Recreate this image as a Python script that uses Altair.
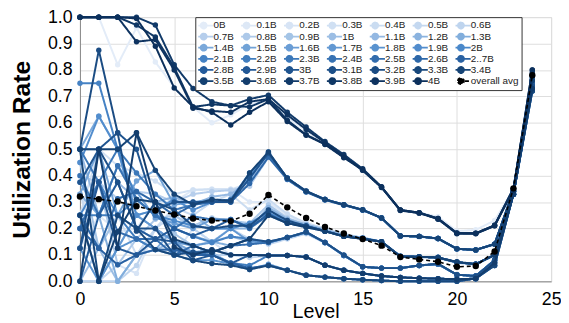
import altair as alt
import pandas as pd

levels = list(range(25))

series_names = ["0B", "0.1B", "0.2B", "0.3B", "0.4B", "0.5B", "0.6B",
                "0.7B", "0.8B", "0.9B", "1B", "1.1B", "1.2B", "1.3B",
                "1.4B", "1.5B", "1.6B", "1.7B", "1.8B", "1.9B", "2B",
                "2.1B", "2.2B", "2.3B", "2.4B", "2.5B", "2.6B", "2..7B",
                "2.8B", "2.9B", "3B", "3.1B", "3.2B", "3.3B", "3.4B",
                "3.5B", "3.6B", "3.7B", "3.8B", "3.9B", "4B"]
avg_name = "overall avg"

u00 = [1.0, 1.0, 0.82, 0.96, 0.83, 0.735, 0.66, 0.60, 0.63, 0.67, 0.69, 0.62, 0.57, 0.52, 0.47, 0.42, 0.355, 0.27, 0.26, 0.245, 0.19, 0.195, 0.23, 0.35, 0.79]
u01 = [0.125, 0.25, 0.1875, 0.2, 0.3, 0.3, 0.346, 0.35, 0.35, 0.3, 0.3, 0.25, 0.22, 0.2, 0.18, 0.165, 0.15, 0.095, 0.09, 0.088, 0.07, 0.062, 0.1, 0.34, 0.75]
u02 = [0.125, 0.125, 0.0625, 0.03, 0.2, 0.1, 0.2, 0.15, 0.1, 0.1, 0.098, 0.098, 0.092, 0.061, 0.042, 0.03, 0.02, 0.015, 0.012, 0.01, 0.008, 0.01, 0.07, 0.33, 0.73]
u03 = [0.25, 0.5, 0.4375, 0.41, 0.38, 0.33, 0.346, 0.348, 0.348, 0.37, 0.475, 0.385, 0.338, 0.308, 0.288, 0.27, 0.238, 0.17, 0.168, 0.16, 0.121, 0.117, 0.14, 0.34, 0.76]
u04 = [0.33, 0.125, 0.25, 0.1, 0.2, 0.28, 0.25, 0.3, 0.33, 0.27, 0.31, 0.255, 0.22, 0.2, 0.18, 0.165, 0.148, 0.095, 0.09, 0.088, 0.07, 0.062, 0.1, 0.34, 0.75]
u05 = [0.0, 0.0, 0.0625, 0.1, 0.2, 0.25, 0.2, 0.15, 0.2, 0.16, 0.14, 0.16, 0.18, 0.145, 0.098, 0.055, 0.05, 0.05, 0.06, 0.065, 0.025, 0.02, 0.08, 0.33, 0.74]
u06 = [0.0, 0.0, 0.0, 0.06, 0.2, 0.15, 0.1, 0.1, 0.1, 0.09, 0.097, 0.098, 0.092, 0.061, 0.042, 0.03, 0.02, 0.015, 0.012, 0.01, 0.008, 0.01, 0.07, 0.33, 0.73]
u07 = [0.4, 0.375, 0.3125, 0.34, 0.33, 0.3, 0.33, 0.34, 0.345, 0.36, 0.47, 0.388, 0.34, 0.31, 0.29, 0.27, 0.24, 0.172, 0.17, 0.162, 0.123, 0.119, 0.141, 0.34, 0.76]
u08 = [0.2, 0.375, 0.0625, 0.16, 0.235, 0.25, 0.21, 0.24, 0.23, 0.22, 0.29, 0.24, 0.215, 0.195, 0.175, 0.165, 0.15, 0.095, 0.093, 0.09, 0.072, 0.065, 0.1, 0.34, 0.75]
u09 = [0.45, 0.125, 0.25, 0.2, 0.16, 0.18, 0.135, 0.15, 0.17, 0.15, 0.145, 0.165, 0.185, 0.147, 0.098, 0.055, 0.05, 0.05, 0.06, 0.065, 0.025, 0.02, 0.08, 0.33, 0.74]
u10 = [0.0, 0.125, 0.0, 0.1, 0.12, 0.15, 0.135, 0.11, 0.067, 0.05, 0.06, 0.042, 0.023, 0.016, 0.01, 0.006, 0.003, 0.0, 0.0, 0.0, 0.0, 0.011, 0.06, 0.33, 0.72]
u11 = [0.5, 0.25, 0.375, 0.31, 0.3, 0.32, 0.29, 0.32, 0.33, 0.38, 0.48, 0.39, 0.342, 0.311, 0.29, 0.271, 0.24, 0.172, 0.17, 0.162, 0.123, 0.119, 0.141, 0.34, 0.75]
u12 = [0.5, 0.5, 0.125, 0.25, 0.27, 0.2, 0.25, 0.2, 0.2, 0.2, 0.28, 0.235, 0.215, 0.195, 0.175, 0.165, 0.15, 0.095, 0.093, 0.09, 0.072, 0.065, 0.1, 0.34, 0.75]
u13 = [0.33, 0.25, 0.0, 0.1, 0.12, 0.2, 0.172, 0.15, 0.135, 0.16, 0.15, 0.166, 0.185, 0.147, 0.098, 0.055, 0.05, 0.05, 0.06, 0.065, 0.025, 0.02, 0.08, 0.33, 0.74]
u14 = [0.5, 0.625, 0.5, 0.25, 0.2, 0.15, 0.11, 0.12, 0.1, 0.1, 0.098, 0.098, 0.092, 0.061, 0.042, 0.03, 0.02, 0.015, 0.012, 0.01, 0.008, 0.01, 0.07, 0.33, 0.73]
u15 = [0.33, 0.5, 0.25, 0.38, 0.42, 0.29, 0.3, 0.31, 0.3, 0.4, 0.485, 0.392, 0.341, 0.31, 0.29, 0.27, 0.24, 0.172, 0.17, 0.162, 0.123, 0.119, 0.141, 0.34, 0.76]
u16 = [0.375, 0.25, 0.4375, 0.34, 0.24, 0.22, 0.2, 0.234, 0.23, 0.21, 0.27, 0.23, 0.21, 0.19, 0.172, 0.163, 0.15, 0.095, 0.093, 0.09, 0.072, 0.065, 0.1, 0.34, 0.75]
u17 = [0.25, 0.0, 0.125, 0.25, 0.2, 0.15, 0.135, 0.147, 0.2, 0.15, 0.147, 0.166, 0.185, 0.147, 0.098, 0.055, 0.05, 0.05, 0.06, 0.065, 0.025, 0.02, 0.08, 0.33, 0.74]
u18 = [0.125, 0.0, 0.125, 0.16, 0.12, 0.1, 0.079, 0.08, 0.067, 0.045, 0.065, 0.042, 0.023, 0.016, 0.01, 0.006, 0.003, 0.0, 0.0, 0.0, 0.0, 0.011, 0.06, 0.33, 0.72]
u19 = [0.45, 0.625, 0.5, 0.25, 0.27, 0.31, 0.27, 0.30, 0.31, 0.39, 0.49, 0.39, 0.34, 0.31, 0.29, 0.27, 0.24, 0.172, 0.17, 0.162, 0.123, 0.119, 0.141, 0.34, 0.77]
u20 = [0.25, 0.375, 0.25, 0.31, 0.25, 0.23, 0.21, 0.2, 0.2, 0.22, 0.26, 0.225, 0.21, 0.19, 0.172, 0.163, 0.15, 0.095, 0.093, 0.09, 0.072, 0.065, 0.1, 0.34, 0.74]
u21 = [0.75, 0.75, 0.5, 0.31, 0.25, 0.2, 0.17, 0.147, 0.17, 0.16, 0.147, 0.166, 0.187, 0.147, 0.098, 0.055, 0.05, 0.05, 0.06, 0.065, 0.025, 0.02, 0.08, 0.33, 0.74]
u22 = [0.25, 0.25, 0.25, 0.16, 0.12, 0.12, 0.11, 0.1, 0.07, 0.06, 0.098, 0.098, 0.092, 0.061, 0.042, 0.03, 0.02, 0.015, 0.012, 0.01, 0.008, 0.01, 0.07, 0.33, 0.73]
u23 = [0.5, 0.375, 0.5, 0.41, 0.33, 0.27, 0.29, 0.3, 0.31, 0.41, 0.48, 0.39, 0.34, 0.31, 0.29, 0.27, 0.24, 0.172, 0.17, 0.162, 0.123, 0.119, 0.141, 0.345, 0.76]
u24 = [0.4, 0.25, 0.4375, 0.31, 0.25, 0.2, 0.246, 0.234, 0.234, 0.2, 0.25, 0.22, 0.205, 0.19, 0.17, 0.162, 0.15, 0.093, 0.093, 0.09, 0.072, 0.065, 0.1, 0.34, 0.75]
u25 = [0.2, 0.375, 0.1875, 0.16, 0.16, 0.1, 0.135, 0.11, 0.135, 0.14, 0.147, 0.166, 0.185, 0.147, 0.098, 0.055, 0.05, 0.05, 0.06, 0.065, 0.025, 0.02, 0.08, 0.33, 0.74]
u26 = [0.25, 0.125, 0.3125, 0.34, 0.3, 0.25, 0.29, 0.30, 0.30, 0.37, 0.47, 0.385, 0.338, 0.308, 0.288, 0.27, 0.24, 0.172, 0.17, 0.162, 0.123, 0.119, 0.141, 0.34, 0.77]
u27 = [0.2, 0.125, 0.0625, 0.1, 0.12, 0.12, 0.1, 0.1, 0.07, 0.05, 0.06, 0.042, 0.023, 0.016, 0.01, 0.006, 0.003, 0.0, 0.0, 0.0, 0.0, 0.011, 0.06, 0.33, 0.72]
u28 = [0.0, 0.25, 0.375, 0.2, 0.16, 0.2, 0.172, 0.2, 0.234, 0.203, 0.255, 0.22, 0.21, 0.19, 0.17, 0.162, 0.15, 0.093, 0.093, 0.09, 0.072, 0.065, 0.1, 0.34, 0.75]
u29 = [0.125, 0.375, 0.125, 0.1, 0.16, 0.15, 0.079, 0.1, 0.067, 0.1, 0.098, 0.098, 0.092, 0.061, 0.042, 0.03, 0.02, 0.015, 0.012, 0.01, 0.008, 0.01, 0.07, 0.33, 0.73]
u30 = [0.375, 0.5, 0.5625, 0.5, 0.27, 0.3, 0.3, 0.3, 0.3, 0.39, 0.485, 0.39, 0.34, 0.31, 0.29, 0.27, 0.24, 0.172, 0.17, 0.162, 0.123, 0.119, 0.141, 0.34, 0.78]
u31 = [0.125, 0.5, 0.375, 0.2, 0.2, 0.1, 0.11, 0.11, 0.135, 0.16, 0.15, 0.166, 0.187, 0.147, 0.1, 0.055, 0.05, 0.05, 0.06, 0.067, 0.025, 0.02, 0.08, 0.33, 0.74]
u32 = [0.5, 0.875, 0.5625, 0.19, 0.3, 0.27, 0.21, 0.2, 0.21, 0.21, 0.27, 0.23, 0.21, 0.19, 0.17, 0.162, 0.15, 0.095, 0.093, 0.09, 0.072, 0.065, 0.1, 0.34, 0.76]
u33 = [0.5, 0.0, 0.25, 0.2, 0.12, 0.1, 0.079, 0.067, 0.061, 0.045, 0.06, 0.042, 0.023, 0.016, 0.01, 0.006, 0.003, 0.0, 0.0, 0.0, 0.0, 0.011, 0.06, 0.33, 0.72]
u34 = [0.5, 0.5, 0.5, 0.5625, 0.42, 0.33, 0.29, 0.31, 0.305, 0.41, 0.49, 0.39, 0.342, 0.31, 0.29, 0.271, 0.24, 0.172, 0.17, 0.162, 0.123, 0.119, 0.141, 0.345, 0.78]
u35 = [0.25, 0.0, 0.1875, 0.31, 0.3, 0.16, 0.135, 0.11, 0.135, 0.16, 0.25, 0.22, 0.205, 0.19, 0.17, 0.16, 0.15, 0.093, 0.093, 0.09, 0.074, 0.065, 0.1, 0.34, 0.76]
u36 = [0.0, 0.5, 0.125, 0.5625, 0.3, 0.13, 0.1, 0.12, 0.1, 0.1, 0.098, 0.098, 0.092, 0.061, 0.042, 0.03, 0.02, 0.015, 0.012, 0.01, 0.008, 0.01, 0.07, 0.33, 0.73]
u37 = [1.0, 1.0, 1.0, 1.0, 0.97, 0.82, 0.73, 0.68, 0.665, 0.69, 0.705, 0.64, 0.584, 0.529, 0.48, 0.426, 0.358, 0.269, 0.259, 0.238, 0.182, 0.182, 0.212, 0.352, 0.79]
u38 = [1.0, 1.0, 1.0, 0.97, 0.925, 0.81, 0.66, 0.67, 0.665, 0.66, 0.69, 0.61, 0.555, 0.52, 0.47, 0.42, 0.355, 0.27, 0.26, 0.235, 0.18, 0.18, 0.21, 0.35, 0.78]
u39 = [1.0, 1.0, 1.0, 0.907, 0.915, 0.80, 0.655, 0.645, 0.64, 0.68, 0.69, 0.63, 0.575, 0.525, 0.475, 0.42, 0.356, 0.268, 0.258, 0.236, 0.183, 0.181, 0.21, 0.345, 0.80]
u40 = [1.0, 1.0, 1.0, 0.995, 0.89, 0.732, 0.66, 0.64, 0.592, 0.64, 0.68, 0.605, 0.553, 0.518, 0.468, 0.424, 0.357, 0.27, 0.26, 0.238, 0.182, 0.182, 0.212, 0.35, 0.80]

overall_avg = [0.321, 0.311, 0.302, 0.284, 0.268, 0.253, 0.238, 0.230, 0.228, 0.256, 0.327, 0.280, 0.240, 0.206, 0.181, 0.160, 0.135, 0.092, 0.083, 0.074, 0.055, 0.058, 0.113, 0.352, 0.780]

series_values = [u00, u01, u02, u03, u04, u05, u06, u07, u08, u09, u10,
                 u11, u12, u13, u14, u15, u16, u17, u18, u19, u20,
                 u21, u22, u23, u24, u25, u26, u27, u28, u29, u30,
                 u31, u32, u33, u34, u35, u36, u37, u38, u39, u40]

rows = []
for name, vals in zip(series_names, series_values):
    for lv, v in zip(levels, vals):
        rows.append({"series": name, "level": lv, "rate": v})
for lv, v in zip(levels, overall_avg):
    rows.append({"series": avg_name, "level": lv, "rate": v})
df = pd.DataFrame(rows)

# colour ramp (light -> dark blue)
anchors = [(0.0, (227, 236, 248)), (0.15, (190, 212, 238)), (0.35, (122, 168, 218)),
           (0.5, (74, 136, 202)), (0.7, (36, 92, 156)), (0.85, (22, 68, 118)),
           (1.0, (12, 48, 92))]


def ramp(t):
    for (t0, c0), (t1, c1) in zip(anchors[:-1], anchors[1:]):
        if t0 <= t <= t1:
            f = (t - t0) / (t1 - t0)
            c = [round(a + (b - a) * f) for a, b in zip(c0, c1)]
            return "#%02x%02x%02x" % tuple(c)
    return "#0c305c"


domain = series_names + [avg_name]
colors = [ramp(i / 40) for i in range(41)] + ["#000000"]
dashes = [[1, 0]] * 41 + [[4, 3]]

FONT = "Liberation Sans"
sym_path = "M-2.2,0H2.2M-0.68,0A0.68,0.68,0,1,1,0.68,0A0.68,0.68,0,1,1,-0.68,0Z"


def make_legend():
    return alt.Legend(
        title=None, orient="none", legendX=117, legendY=0, columns=7,
        direction="horizontal",
        symbolType=sym_path, symbolSize=81, symbolStrokeWidth=1.8,
        symbolFillColor={"expr": "scale('color', datum.value)"},
        labelFont=FONT, labelFontSize=10, labelColor="#222222",
        labelOffset=4.5, columnPadding=6.5, rowPadding=0.3, padding=3,
        clipHeight=10.8,
        strokeColor="#333333", fillColor="#ffffff", symbolLimit=60,
        labelLimit=0,
    )


x_enc = alt.X("level:Q", scale=alt.Scale(domain=[0, 25], nice=False),
              axis=alt.Axis(values=[0, 5, 10, 15, 20, 25], title="Level",
                            titleFontSize=20, titleFontWeight="normal",
                            titleBaseline="alphabetic", titleY=37,
                            labelFontSize=18, labelFlush=False, ticks=False,
                            labelBaseline="alphabetic", labelPadding=24))
y_enc = alt.Y("rate:Q", scale=alt.Scale(domain=[0, 1], nice=False),
              axis=alt.Axis(values=[0, 0.1, 0.2, 0.3, 0.4, 0.5, 0.6, 0.7, 0.8, 0.9, 1.0],
                            format=".1f", title="Utilization Rate",
                            titleFontSize=25, titleFontWeight="bold",
                            labelFontSize=18, ticks=False, labelPadding=8,
                            titlePadding=13))
c_enc = alt.Color("series:N", scale=alt.Scale(domain=domain, range=colors),
                  legend=make_legend())
d_enc = alt.StrokeDash("series:N", scale=alt.Scale(domain=domain, range=dashes),
                       legend=make_legend())

layers = []
for name in domain:
    is_avg = name == avg_name
    layers.append(
        alt.Chart()
        .transform_filter(alt.datum.series == name)
        .mark_line(strokeWidth=1.6 if is_avg else 2.0,
                   point=alt.OverlayMarkDef(filled=True, size=42 if is_avg else 30))
        .encode(x=x_enc, y=y_enc, color=c_enc, strokeDash=d_enc,
                order=alt.Order("level:Q"))
    )

chart = alt.layer(*layers, data=df).properties(
    width=478, height=268,
    autosize=alt.AutoSizeParams(type="none"),
    padding={"left": 73, "top": 7, "right": 10, "bottom": 40},
).configure_view(stroke="#000000", strokeWidth=1.2).configure_axis(
    labelFont=FONT, titleFont=FONT, labelColor="#000000", titleColor="#000000",
    domainColor="#000000", gridColor="#d6d6d6", gridWidth=1,
).configure(background="#ffffff")

chart.save("out.html", embed_options={"renderer": "svg", "actions": False})
